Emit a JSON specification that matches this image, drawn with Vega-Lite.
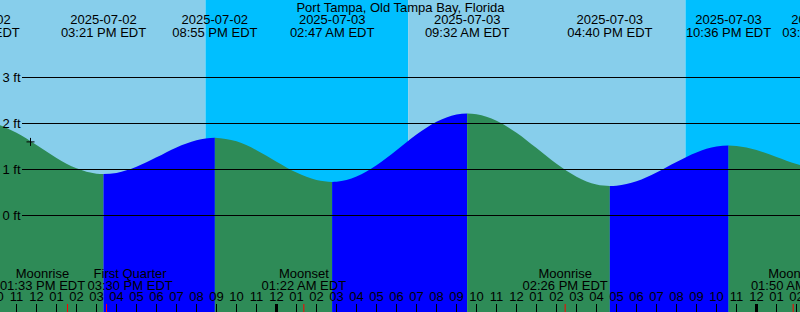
{
  "$schema": "https://vega.github.io/schema/vega-lite/v6.json",
  "width": 800,
  "height": 312,
  "padding": 0,
  "autosize": {"type": "none"},
  "background": "white",
  "config": {"view": {"stroke": null}},
  "datasets": {
    "sky": [
      {"h0": -16, "h1": -3.55, "p": "day"},
      {"h0": -3.55, "h1": 6.583, "p": "night"},
      {"h0": 6.583, "h1": 20.45, "p": "day"},
      {"h0": 20.45, "h1": 30, "p": "night"}
    ],
    "tide": [
      {"seg": "f0", "dir": "falling", "h": -14.95, "ft": 2.05},
      {"seg": "f0", "dir": "falling", "h": -14, "ft": 1.987},
      {"seg": "f0", "dir": "falling", "h": -13, "ft": 1.799},
      {"seg": "f0", "dir": "falling", "h": -12, "ft": 1.532},
      {"seg": "f0", "dir": "falling", "h": -11, "ft": 1.251},
      {"seg": "f0", "dir": "falling", "h": -10, "ft": 1.026},
      {"seg": "f0", "dir": "falling", "h": -9, "ft": 0.909},
      {"seg": "f0", "dir": "falling", "h": -8.65, "ft": 0.9},
      {"seg": "r1", "dir": "rising", "h": -8.65, "ft": 0.9},
      {"seg": "r1", "dir": "rising", "h": -8, "ft": 0.926},
      {"seg": "r1", "dir": "rising", "h": -7, "ft": 1.059},
      {"seg": "r1", "dir": "rising", "h": -6, "ft": 1.265},
      {"seg": "r1", "dir": "rising", "h": -5, "ft": 1.481},
      {"seg": "r1", "dir": "rising", "h": -4, "ft": 1.638},
      {"seg": "r1", "dir": "rising", "h": -3.083, "ft": 1.69},
      {"seg": "f2", "dir": "falling", "h": -3.083, "ft": 1.69},
      {"seg": "f2", "dir": "falling", "h": -2, "ft": 1.612},
      {"seg": "f2", "dir": "falling", "h": -1, "ft": 1.421},
      {"seg": "f2", "dir": "falling", "h": 0, "ft": 1.171},
      {"seg": "f2", "dir": "falling", "h": 1, "ft": 0.933},
      {"seg": "f2", "dir": "falling", "h": 2, "ft": 0.772},
      {"seg": "f2", "dir": "falling", "h": 2.783, "ft": 0.73},
      {"seg": "r3", "dir": "rising", "h": 2.783, "ft": 0.73},
      {"seg": "r3", "dir": "rising", "h": 3, "ft": 0.734},
      {"seg": "r3", "dir": "rising", "h": 4, "ft": 0.846},
      {"seg": "r3", "dir": "rising", "h": 5, "ft": 1.093},
      {"seg": "r3", "dir": "rising", "h": 6, "ft": 1.42},
      {"seg": "r3", "dir": "rising", "h": 7, "ft": 1.759},
      {"seg": "r3", "dir": "rising", "h": 8, "ft": 2.037},
      {"seg": "r3", "dir": "rising", "h": 9, "ft": 2.197},
      {"seg": "r3", "dir": "rising", "h": 9.533, "ft": 2.22},
      {"seg": "f4", "dir": "falling", "h": 9.533, "ft": 2.22},
      {"seg": "f4", "dir": "falling", "h": 10, "ft": 2.203},
      {"seg": "f4", "dir": "falling", "h": 11, "ft": 2.061},
      {"seg": "f4", "dir": "falling", "h": 12, "ft": 1.798},
      {"seg": "f4", "dir": "falling", "h": 13, "ft": 1.465},
      {"seg": "f4", "dir": "falling", "h": 14, "ft": 1.125},
      {"seg": "f4", "dir": "falling", "h": 15, "ft": 0.845},
      {"seg": "f4", "dir": "falling", "h": 16, "ft": 0.674},
      {"seg": "f4", "dir": "falling", "h": 16.667, "ft": 0.64},
      {"seg": "r5", "dir": "rising", "h": 16.667, "ft": 0.64},
      {"seg": "r5", "dir": "rising", "h": 17, "ft": 0.647},
      {"seg": "r5", "dir": "rising", "h": 18, "ft": 0.745},
      {"seg": "r5", "dir": "rising", "h": 19, "ft": 0.935},
      {"seg": "r5", "dir": "rising", "h": 20, "ft": 1.165},
      {"seg": "r5", "dir": "rising", "h": 21, "ft": 1.371},
      {"seg": "r5", "dir": "rising", "h": 22, "ft": 1.498},
      {"seg": "r5", "dir": "rising", "h": 22.6, "ft": 1.52},
      {"seg": "f6", "dir": "falling", "h": 22.6, "ft": 1.52},
      {"seg": "f6", "dir": "falling", "h": 23, "ft": 1.511},
      {"seg": "f6", "dir": "falling", "h": 24, "ft": 1.422},
      {"seg": "f6", "dir": "falling", "h": 25, "ft": 1.27},
      {"seg": "f6", "dir": "falling", "h": 26, "ft": 1.118},
      {"seg": "f6", "dir": "falling", "h": 27, "ft": 1.029},
      {"seg": "f6", "dir": "falling", "h": 27.4, "ft": 1.02}
    ],
    "grid": [{"ft": 0, "lbl": "0 ft"}, {"ft": 1, "lbl": "1 ft"}, {"ft": 2, "lbl": "2 ft"}, {"ft": 3, "lbl": "3 ft"}],
    "hours": [
      {"h": -14, "lab": "10"}, {"h": -13, "lab": "11"}, {"h": -12, "lab": "12"}, {"h": -11, "lab": "01"},
      {"h": -10, "lab": "02"}, {"h": -9, "lab": "03"}, {"h": -8, "lab": "04"}, {"h": -7, "lab": "05"},
      {"h": -6, "lab": "06"}, {"h": -5, "lab": "07"}, {"h": -4, "lab": "08"}, {"h": -3, "lab": "09"},
      {"h": -2, "lab": "10"}, {"h": -1, "lab": "11"}, {"h": 0, "lab": "12"}, {"h": 1, "lab": "01"},
      {"h": 2, "lab": "02"}, {"h": 3, "lab": "03"}, {"h": 4, "lab": "04"}, {"h": 5, "lab": "05"},
      {"h": 6, "lab": "06"}, {"h": 7, "lab": "07"}, {"h": 8, "lab": "08"}, {"h": 9, "lab": "09"},
      {"h": 10, "lab": "10"}, {"h": 11, "lab": "11"}, {"h": 12, "lab": "12"}, {"h": 13, "lab": "01"},
      {"h": 14, "lab": "02"}, {"h": 15, "lab": "03"}, {"h": 16, "lab": "04"}, {"h": 17, "lab": "05"},
      {"h": 18, "lab": "06"}, {"h": 19, "lab": "07"}, {"h": 20, "lab": "08"}, {"h": 21, "lab": "09"},
      {"h": 22, "lab": "10"}, {"h": 23, "lab": "11"}, {"h": 24, "lab": "12"}, {"h": 25, "lab": "01"},
      {"h": 26, "lab": "02"}
    ],
    "events": [
      {"h": -14.95, "d": "2025-07-02", "t": "09:03 AM EDT"},
      {"h": -8.65, "d": "2025-07-02", "t": "03:21 PM EDT"},
      {"h": -3.083, "d": "2025-07-02", "t": "08:55 PM EDT"},
      {"h": 2.783, "d": "2025-07-03", "t": "02:47 AM EDT"},
      {"h": 9.533, "d": "2025-07-03", "t": "09:32 AM EDT"},
      {"h": 16.667, "d": "2025-07-03", "t": "04:40 PM EDT"},
      {"h": 22.6, "d": "2025-07-03", "t": "10:36 PM EDT"},
      {"h": 27.4, "d": "2025-07-04", "t": "03:24 AM EDT"}
    ],
    "moon": [
      {"h": -10.45, "lh": -11.7, "ev": "Moonrise", "t": "01:33 PM EDT"},
      {"h": -8.5, "lh": -7.32, "ev": "First Quarter", "t": "03:30 PM EDT"},
      {"h": 1.367, "lh": 1.367, "ev": "Moonset", "t": "01:22 AM EDT"},
      {"h": 14.433, "lh": 14.433, "ev": "Moonrise", "t": "02:26 PM EDT"},
      {"h": 25.833, "lh": 25.833, "ev": "Moonset", "t": "01:50 AM EDT"}
    ],
    "now": [{"h": -12.3, "ft": 1.6}]
  },
  "layer": [
    {
      "data": {"name": "sky"},
      "mark": {"type": "rect", "clip": true},
      "encoding": {
        "x": {"field": "h0", "type": "quantitative", "scale": {"domain": [-13.825, 26.175], "nice": false, "zero": false}, "axis": null},
        "x2": {"field": "h1"},
        "color": {"field": "p", "type": "nominal", "scale": {"domain": ["day", "night", "falling", "rising"], "range": ["#87CEEB", "#00BFFF", "#2E8B57", "#0000FF"]}, "legend": null}
      }
    },
    {
      "data": {"name": "tide"},
      "mark": {"type": "area", "interpolate": "monotone", "clip": true},
      "encoding": {
        "x": {"field": "h", "type": "quantitative", "scale": {"domain": [-13.825, 26.175], "nice": false, "zero": false}, "axis": null},
        "y": {"field": "ft", "type": "quantitative", "scale": {"domain": [-2.0978, 4.6848], "nice": false, "zero": false}, "axis": null},
        "y2": {"datum": -2.0978},
        "color": {"field": "dir", "type": "nominal", "scale": {"domain": ["day", "night", "falling", "rising"], "range": ["#87CEEB", "#00BFFF", "#2E8B57", "#0000FF"]}, "legend": null},
        "detail": {"field": "seg"}
      }
    },
    {
      "data": {"name": "grid"},
      "mark": {"type": "rule", "color": "black", "strokeWidth": 1},
      "encoding": {
        "y": {"field": "ft", "type": "quantitative", "scale": {"domain": [-2.0978, 4.6848], "nice": false, "zero": false}, "axis": null},
        "x": {"datum": -12.725, "type": "quantitative", "scale": {"domain": [-13.825, 26.175], "nice": false, "zero": false}, "axis": null},
        "x2": {"datum": 26.3}
      }
    },
    {
      "data": {"name": "grid"},
      "mark": {"type": "text", "font": "Liberation Sans", "fontSize": 13, "color": "black", "align": "right", "baseline": "middle"},
      "encoding": {
        "y": {"field": "ft", "type": "quantitative", "scale": {"domain": [-2.0978, 4.6848], "nice": false, "zero": false}, "axis": null},
        "x": {"datum": -12.8, "type": "quantitative", "scale": {"domain": [-13.825, 26.175], "nice": false, "zero": false}, "axis": null},
        "text": {"field": "lbl"}
      }
    },
    {
      "data": {"name": "hours"},
      "mark": {"type": "rule", "color": "black"},
      "encoding": {
        "x": {"field": "h", "type": "quantitative", "scale": {"domain": [-13.825, 26.175], "nice": false, "zero": false}, "axis": null},
        "y": {"datum": -1.924, "type": "quantitative", "scale": {"domain": [-2.0978, 4.6848], "nice": false, "zero": false}, "axis": null},
        "y2": {"datum": -2.0978},
        "strokeWidth": {"condition": {"test": "datum.h % 24 === 0", "value": 3}, "value": 1}
      }
    },
    {
      "data": {"name": "hours"},
      "mark": {"type": "text", "font": "Liberation Sans", "fontSize": 13, "color": "black", "align": "center", "baseline": "alphabetic"},
      "encoding": {
        "x": {"field": "h", "type": "quantitative", "scale": {"domain": [-13.825, 26.175], "nice": false, "zero": false}, "axis": null},
        "y": {"datum": -1.859, "type": "quantitative", "scale": {"domain": [-2.0978, 4.6848], "nice": false, "zero": false}, "axis": null},
        "text": {"field": "lab"}
      }
    },
    {
      "data": {"name": "moon"},
      "mark": {"type": "rule", "color": "#FF0000", "strokeWidth": 1},
      "encoding": {
        "x": {"field": "h", "type": "quantitative", "scale": {"domain": [-13.825, 26.175], "nice": false, "zero": false}, "axis": null},
        "y": {"datum": -1.924, "type": "quantitative", "scale": {"domain": [-2.0978, 4.6848], "nice": false, "zero": false}, "axis": null},
        "y2": {"datum": -2.0978}
      }
    },
    {
      "data": {"name": "now"},
      "mark": {"type": "point", "shape": "M-1,0L1,0M0,-1L0,1", "size": 64, "filled": false, "stroke": "black", "strokeWidth": 1, "opacity": 1},
      "encoding": {
        "x": {"field": "h", "type": "quantitative", "scale": {"domain": [-13.825, 26.175], "nice": false, "zero": false}, "axis": null},
        "y": {"field": "ft", "type": "quantitative", "scale": {"domain": [-2.0978, 4.6848], "nice": false, "zero": false}, "axis": null}
      }
    },
    {
      "data": {"name": "events"},
      "mark": {"type": "text", "font": "Liberation Sans", "fontSize": 13, "color": "black", "align": "center", "baseline": "alphabetic"},
      "encoding": {
        "x": {"field": "h", "type": "quantitative", "scale": {"domain": [-13.825, 26.175], "nice": false, "zero": false}, "axis": null},
        "y": {"datum": 4.163, "type": "quantitative", "scale": {"domain": [-2.0978, 4.6848], "nice": false, "zero": false}, "axis": null},
        "text": {"field": "d"}
      }
    },
    {
      "data": {"name": "events"},
      "mark": {"type": "text", "font": "Liberation Sans", "fontSize": 13, "color": "black", "align": "center", "baseline": "alphabetic"},
      "encoding": {
        "x": {"field": "h", "type": "quantitative", "scale": {"domain": [-13.825, 26.175], "nice": false, "zero": false}, "axis": null},
        "y": {"datum": 3.887, "type": "quantitative", "scale": {"domain": [-2.0978, 4.6848], "nice": false, "zero": false}, "axis": null},
        "text": {"field": "t"}
      }
    },
    {
      "data": {"values": [{"title": "Port Tampa, Old Tampa Bay, Florida"}]},
      "mark": {"type": "text", "font": "Liberation Sans", "fontSize": 13, "color": "black", "align": "center", "baseline": "alphabetic"},
      "encoding": {
        "x": {"datum": 6.2, "type": "quantitative", "scale": {"domain": [-13.825, 26.175], "nice": false, "zero": false}, "axis": null},
        "y": {"datum": 4.43, "type": "quantitative", "scale": {"domain": [-2.0978, 4.6848], "nice": false, "zero": false}, "axis": null},
        "text": {"field": "title"}
      }
    },
    {
      "data": {"name": "moon"},
      "mark": {"type": "text", "font": "Liberation Sans", "fontSize": 13, "color": "black", "align": "center", "baseline": "alphabetic"},
      "encoding": {
        "x": {"field": "lh", "type": "quantitative", "scale": {"domain": [-13.825, 26.175], "nice": false, "zero": false}, "axis": null},
        "y": {"datum": -1.365, "type": "quantitative", "scale": {"domain": [-2.0978, 4.6848], "nice": false, "zero": false}, "axis": null},
        "text": {"field": "ev"}
      }
    },
    {
      "data": {"name": "moon"},
      "mark": {"type": "text", "font": "Liberation Sans", "fontSize": 13, "color": "black", "align": "center", "baseline": "alphabetic"},
      "encoding": {
        "x": {"field": "lh", "type": "quantitative", "scale": {"domain": [-13.825, 26.175], "nice": false, "zero": false}, "axis": null},
        "y": {"datum": -1.615, "type": "quantitative", "scale": {"domain": [-2.0978, 4.6848], "nice": false, "zero": false}, "axis": null},
        "text": {"field": "t"}
      }
    }
  ]
}
